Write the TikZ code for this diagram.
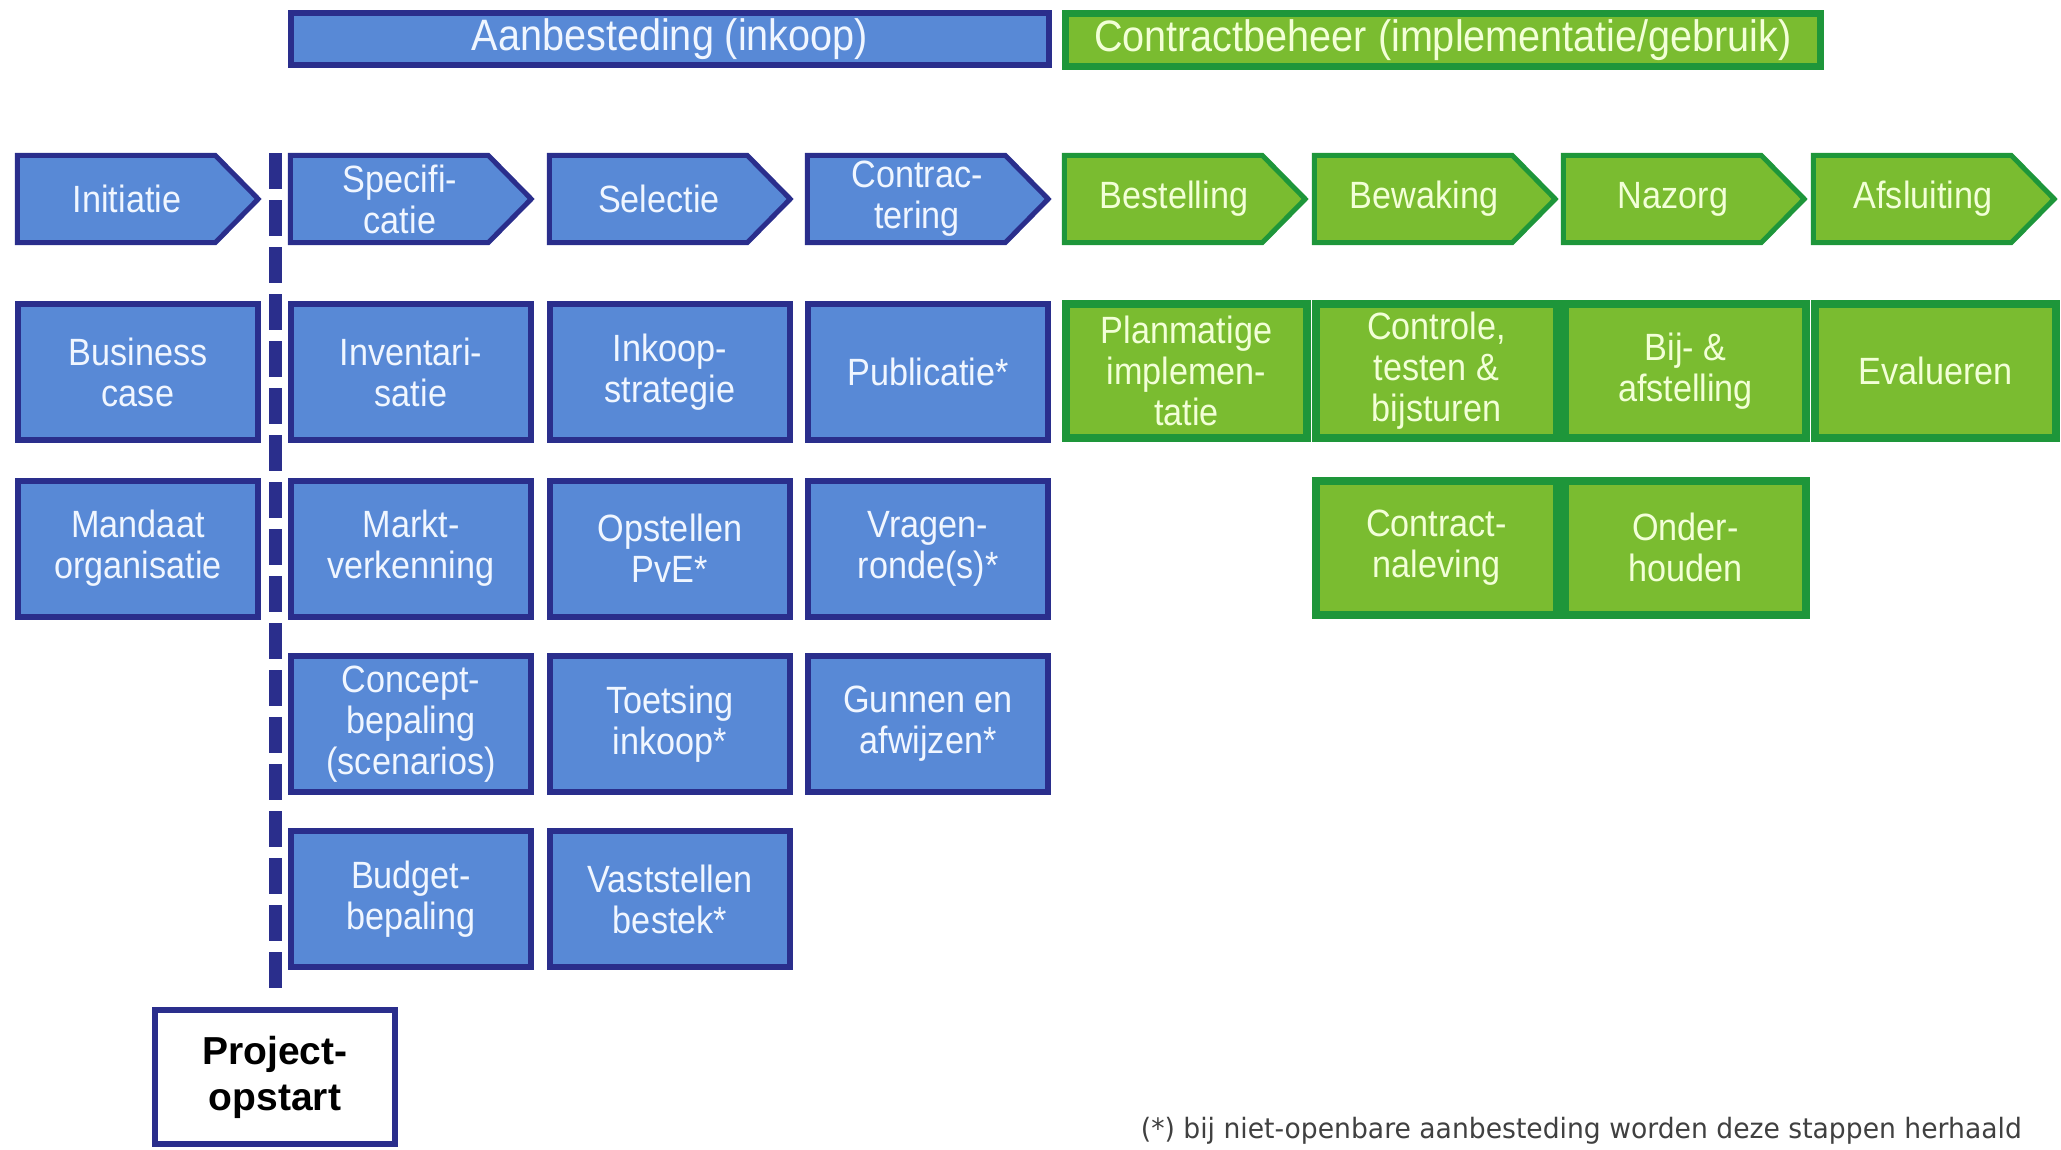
\documentclass[tikz,border=0pt]{standalone}
\usepackage{fontspec}
\setmainfont{Liberation Sans}[FakeStretch=0.9]
\newfontfamily\projfont{Liberation Sans}
\newfontfamily\notefont{DejaVu Sans}[FakeStretch=0.95]
\usetikzlibrary{backgrounds}
\definecolor{bfill}{RGB}{88,137,214}
\definecolor{bline}{RGB}{42,46,140}
\definecolor{gfill}{RGB}{122,188,48}
\definecolor{gline}{RGB}{30,150,58}
\definecolor{gtext}{RGB}{242,255,215}
\definecolor{btext}{RGB}{240,246,255}
\tikzset{
  boxfont/.style={font=\fontsize{38}{41}\selectfont, align=center},
  bluebox/.style={boxfont, draw=bline, fill=bfill, line width=6pt, text=btext,
    minimum width=240pt, minimum height=136pt, inner sep=0pt},
  greenbox/.style={boxfont, draw=gline, fill=gfill, line width=8pt, text=gtext,
    minimum width=241pt, minimum height=134pt, inner sep=0pt},
  chevtext/.style={boxfont, minimum width=219pt, minimum height=87pt, inner sep=0pt},
  bluechevtext/.style={chevtext, text=btext},
  greenchevtext/.style={chevtext, text=gtext},
  bluechev/.style={draw=bline, fill=bfill, line width=5pt, line join=miter},
  greenchev/.style={draw=gline, fill=gfill, line width=5pt, line join=miter},
  blueheader/.style={draw=bline, fill=bfill, line width=6pt, text=btext,
    font=\fontsize{44}{48}\selectfont, minimum width=758pt, minimum height=52pt, inner sep=0pt},
  greenheader/.style={draw=gline, fill=gfill, line width=7pt, text=gtext,
    font=\fontsize{44}{48}\selectfont, minimum width=755pt, minimum height=53pt, inner sep=0pt},
  projbox/.style={draw=bline, fill=white, line width=6pt, text=black,
    font=\projfont\bfseries\fontsize{39}{46}\selectfont, align=center,
    minimum width=240pt, minimum height=134pt, inner sep=0pt},
  dashline/.style={draw=bline, line width=13pt, dash pattern=on 36pt off 11pt},
  notestyle/.style={font=\notefont\fontsize{28}{32}\selectfont, text=black!75, inner sep=0pt}
}
\newcommand\chevpath[2]{%
  \begin{pgfonlayer}{background}
  \path[#2] (#1.north west) -- ([xshift=-21.5pt]#1.north east) -- ([xshift=21.5pt]#1.east)
     -- ([xshift=-21.5pt]#1.south east) -- (#1.south west) -- cycle;
  \end{pgfonlayer}}
\begin{document}
\begin{tikzpicture}[x=1pt,y=-1pt]
\useasboundingbox (0,0) rectangle (2061,1149);

% headers
\node[blueheader] (hA) at (670,39) {Aanbesteding (inkoop)};
\node[greenheader] (hC) at (1443,40) {Contractbeheer (implementatie/gebruik)};

% chevrons row
\node[bluechevtext] (c1) at (127,199) {Initiatie};
\node[bluechevtext] (c2) at (400,199) {Specifi-\\catie};
\node[bluechevtext] (c3) at (659,199) {Selectie};
\node[bluechevtext] (c4) at (917,199) {Contrac-\\tering};
\node[greenchevtext] (c5) at (1174,199) {Bestelling};
\node[greenchevtext] (c6) at (1424,199) {Bewaking};
\node[greenchevtext] (c7) at (1673,199) {Nazorg};
\node[greenchevtext] (c8) at (1923,199) {Afsluiting};
\chevpath{c1}{bluechev}
\chevpath{c2}{bluechev}
\chevpath{c3}{bluechev}
\chevpath{c4}{bluechev}
\chevpath{c5}{greenchev}
\chevpath{c6}{greenchev}
\chevpath{c7}{greenchev}
\chevpath{c8}{greenchev}

% row 2
\node[bluebox] (b21) at (138,372) {Business\\case};
\node[bluebox] (b22) at (411,372) {Inventari-\\satie};
\node[bluebox] (b23) at (670,372) {Inkoop-\\strategie};
\node[bluebox] (b24) at (928,372) {Publicatie*};
\node[greenbox] (g21) at (1186.5,371) {Planmatige\\implemen-\\tatie};
\node[greenbox] (g22) at (1436.5,371) {Controle,\\testen \&\\bijsturen};
\node[greenbox] (g23) at (1685.5,371) {Bij- \&\\afstelling};
\node[greenbox] (g24) at (1935.5,371) {Evalueren};

% row 3
\node[bluebox] (b31) at (138,548.5) {Mandaat\\organisatie};
\node[bluebox] (b32) at (411,548.5) {Markt-\\verkenning};
\node[bluebox] (b33) at (670,548.5) {Opstellen\\PvE*};
\node[bluebox] (b34) at (928,548.5) {Vragen-\\ronde(s)*};
\node[greenbox] (g32) at (1436.5,547.5) {Contract-\\naleving};
\node[greenbox] (g33) at (1685.5,547.5) {Onder-\\houden};

% row 4
\node[bluebox] (b42) at (411,724) {Concept-\\bepaling\\(scenarios)};
\node[bluebox] (b43) at (670,724) {Toetsing\\inkoop*};
\node[bluebox] (b44) at (928,724) {Gunnen en\\afwijzen*};

% row 5
\node[bluebox] (b52) at (411,899) {Budget-\\bepaling};
\node[bluebox] (b53) at (670,899) {Vaststellen\\bestek*};

% project start and dashed line
\node[projbox] (proj) at (275,1077) {Project-\\opstart};
\coordinate (dtop) at (275,153);
\draw[dashline, shorten >=9pt] (dtop) -- (proj.north);

% footnote
\node[notestyle, anchor=east] (note) at (2022,1131) {(*) bij niet-openbare aanbesteding worden deze stappen herhaald};
\end{tikzpicture}
\end{document}
